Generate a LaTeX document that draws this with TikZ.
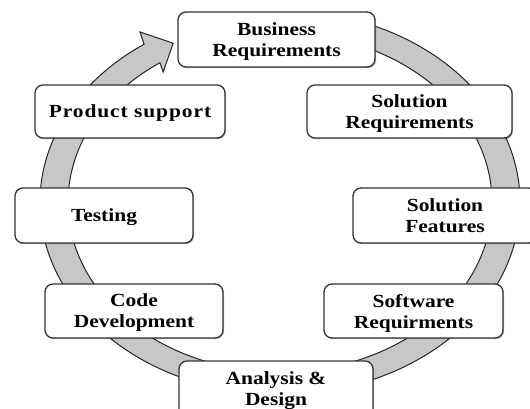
\documentclass[tikz,border=0pt]{standalone}
\usepackage{fontspec}
\usetikzlibrary{shadows}
\newfontfamily\boxfont[FakeStretch=1.16]{Liberation Serif}
\begin{document}
\begin{tikzpicture}[x=1pt,y=1pt,
  stage/.style={draw=black!80, line width=1.3pt, fill=white, rounded corners=8pt,
    align=center, inner sep=0pt, text depth=-3pt,
    drop shadow={shadow xshift=1pt, shadow yshift=-1.2pt, opacity=0.3, fill=black},
    font=\boxfont\bfseries\fontsize{18.5}{21}\selectfont},
  cycleband/.style={fill=black!22, draw=black!85, line width=1pt, line join=miter}]
\clip (0,0) rectangle (530,408);
\def\cx{280}\def\cy{205.5}
% the cycle band: elliptic ring running clockwise, ending in an arrowhead
\draw[cycleband]
  ({\cx+240*cos(70)},{\cy+192*sin(70)})
    arc[start angle=70, end angle=-235.5, x radius=240pt, y radius=192pt]
  -- (140,376) -- (173.2,364.8) -- (163.2,336)
  -- ({\cx+212*cos(-235.5)},{\cy+169.6*sin(-235.5)})
    arc[start angle=-235.5, end angle=70, x radius=212pt, y radius=169.6pt]
  -- cycle;
% stages
\node[stage, minimum width=197pt, minimum height=55pt] (biz) at (276.5,368.5) {Business\\Requirements};
\node[stage, minimum width=205pt, minimum height=53pt] (solreq) at (409.5,296.5) {Solution\\Requirements};
\node[stage, minimum width=184pt, minimum height=55pt] (solfeat) at (445,192.5) {Solution\\Features};
\node[stage, minimum width=179pt, minimum height=54pt] (swreq) at (413.5,97) {Software\\Requirments};
\node[stage, minimum width=194pt, minimum height=56pt] (design) at (276,19) {Analysis \&\\Design};
\node[stage, minimum width=178pt, minimum height=54pt] (code) at (134,97) {Code\\Development};
\node[stage, minimum width=178pt, minimum height=55pt] (test) at (104,192.5) {Testing};
\node[stage, minimum width=190pt, minimum height=53pt] (support) at (130,296.5) {\addfontfeature{LetterSpace=5}Product support};
\end{tikzpicture}
\end{document}
